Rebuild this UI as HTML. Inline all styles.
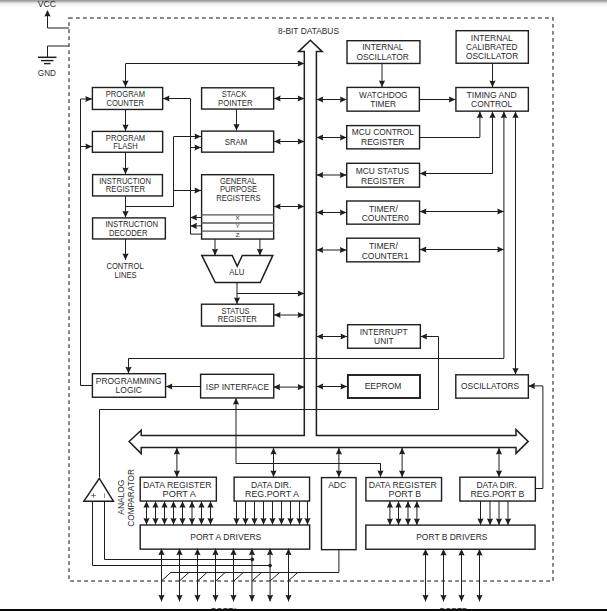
<!DOCTYPE html>
<html><head><meta charset="utf-8"><style>
html,body{margin:0;padding:0;background:#fff;width:607px;height:611px;overflow:hidden}
svg{display:block;font-family:"Liberation Sans",sans-serif}
text{fill:#2b2b2b}
</style></head><body>
<svg width="607" height="611" viewBox="0 0 607 611">
<defs><linearGradient id="tg" x1="0" y1="0" x2="0" y2="1">
<stop offset="0" stop-color="#989898"/><stop offset="0.14" stop-color="#a6a6a6"/><stop offset="0.3" stop-color="#d2d2d2"/><stop offset="0.45" stop-color="#ececec"/><stop offset="0.7" stop-color="#f7f7f7"/><stop offset="1" stop-color="#ffffff"/></linearGradient></defs>
<rect x="0" y="0" width="607" height="611" fill="#fff"/>
<rect x="0" y="0" width="607" height="1" fill="rgb(160,160,160)"/><rect x="0" y="1" width="607" height="1" fill="rgb(180,180,180)"/><rect x="0" y="2" width="607" height="1" fill="rgb(216,216,216)"/><rect x="0" y="3" width="607" height="1" fill="rgb(236,236,236)"/><rect x="0" y="4" width="607" height="1" fill="rgb(245,245,245)"/><rect x="0" y="5" width="607" height="1" fill="rgb(249,249,249)"/><rect x="0" y="6" width="607" height="1" fill="rgb(252,252,252)"/>
<polygon points="47.50,10.00 44.40,16.60 47.50,16.00 50.60,16.60" fill="#1e1e1e"/>
<polyline points="47.5,15 47.5,28 69,28" fill="none" stroke="#1e1e1e" stroke-width="1.0"/>
<polyline points="69,46 47.5,46 47.5,57.5" fill="none" stroke="#1e1e1e" stroke-width="1.0"/>
<line x1="38" y1="57.3" x2="56.5" y2="57.3" stroke="#1e1e1e" stroke-width="1.5"/>
<line x1="41" y1="60.6" x2="53.5" y2="60.6" stroke="#1e1e1e" stroke-width="1.4"/>
<line x1="44" y1="63.6" x2="50.5" y2="63.6" stroke="#1e1e1e" stroke-width="1.4"/>
<rect x="69" y="18" width="484" height="563" fill="none" stroke="#606060" stroke-width="1.5" stroke-dasharray="3.8 3.2"/>
<polygon points="310.4,40.2 322.2,51.6 316.4,51.6 316.4,435.6 516,435.6 516,429.6 528.2,441.4 516,453.4 516,447.6 141.2,447.6 141.2,453.6 129.1,441.5 141.2,430.2 141.2,435.6 304.3,435.6 304.3,51.6 298.5,51.6" fill="none" stroke="#1e1e1e" stroke-width="1.5" stroke-linejoin="miter"/>
<rect x="92.40" y="87.50" width="70.25" height="21.95" fill="none" stroke="#1e1e1e" stroke-width="1.4"/>
<rect x="92.40" y="131.40" width="70.25" height="20.85" fill="none" stroke="#1e1e1e" stroke-width="1.4"/>
<rect x="92.60" y="174.60" width="69.85" height="21.35" fill="none" stroke="#1e1e1e" stroke-width="1.4"/>
<rect x="92.60" y="217.90" width="72.75" height="21.05" fill="none" stroke="#1e1e1e" stroke-width="1.4"/>
<rect x="201.60" y="87.80" width="72.05" height="21.25" fill="none" stroke="#1e1e1e" stroke-width="1.4"/>
<rect x="201.60" y="131.10" width="72.05" height="21.05" fill="none" stroke="#1e1e1e" stroke-width="1.4"/>
<rect x="201.60" y="174.70" width="72.05" height="64.35" fill="none" stroke="#1e1e1e" stroke-width="1.4"/>
<line x1="201.2" y1="214.8" x2="273.9" y2="214.8" stroke="#555" stroke-width="1.3"/>
<line x1="201.2" y1="223.0" x2="273.9" y2="223.0" stroke="#555" stroke-width="1.3"/>
<line x1="201.2" y1="231.1" x2="273.9" y2="231.1" stroke="#555" stroke-width="1.3"/>
<text x="237.6" y="220.3" font-size="6.2" text-anchor="middle" >X</text>
<text x="237.6" y="228.3" font-size="6.2" text-anchor="middle" >Y</text>
<text x="237.6" y="236.8" font-size="6.2" text-anchor="middle" >Z</text>
<polygon points="201.8,255.4 232.2,255.4 237.2,266.3 242.3,255.4 272.8,255.4 260.3,282.6 215.3,282.6" fill="none" stroke="#1e1e1e" stroke-width="1.5"/>
<rect x="201.50" y="304.20" width="72.25" height="21.85" fill="none" stroke="#1e1e1e" stroke-width="1.4"/>
<rect x="200.60" y="374.30" width="73.15" height="23.65" fill="none" stroke="#1e1e1e" stroke-width="1.4"/>
<rect x="92.40" y="373.70" width="73.15" height="23.55" fill="none" stroke="#1e1e1e" stroke-width="1.4"/>
<rect x="347.00" y="40.70" width="72.95" height="22.75" fill="none" stroke="#1e1e1e" stroke-width="1.4"/>
<rect x="347.00" y="87.40" width="72.35" height="23.75" fill="none" stroke="#1e1e1e" stroke-width="1.4"/>
<rect x="346.70" y="125.60" width="72.85" height="23.25" fill="none" stroke="#1e1e1e" stroke-width="1.4"/>
<rect x="346.70" y="163.30" width="72.85" height="23.85" fill="none" stroke="#1e1e1e" stroke-width="1.4"/>
<rect x="346.70" y="201.00" width="72.85" height="23.15" fill="none" stroke="#1e1e1e" stroke-width="1.4"/>
<rect x="346.70" y="238.20" width="72.85" height="23.65" fill="none" stroke="#1e1e1e" stroke-width="1.4"/>
<rect x="347.60" y="324.70" width="72.75" height="23.55" fill="none" stroke="#1e1e1e" stroke-width="1.4"/>
<rect x="347.90" y="375.00" width="72.10" height="23.00" fill="none" stroke="#1e1e1e" stroke-width="1.9"/>
<rect x="456.10" y="30.70" width="72.25" height="32.55" fill="none" stroke="#1e1e1e" stroke-width="1.4"/>
<rect x="455.90" y="87.50" width="72.45" height="23.65" fill="none" stroke="#1e1e1e" stroke-width="1.4"/>
<rect x="455.80" y="374.80" width="72.55" height="23.35" fill="none" stroke="#1e1e1e" stroke-width="1.4"/>
<rect x="140.20" y="477.20" width="76.15" height="23.85" fill="none" stroke="#1e1e1e" stroke-width="1.4"/>
<rect x="234.10" y="477.20" width="75.45" height="23.85" fill="none" stroke="#1e1e1e" stroke-width="1.4"/>
<rect x="321.50" y="477.60" width="34.55" height="72.05" fill="none" stroke="#1e1e1e" stroke-width="1.4"/>
<rect x="365.90" y="477.50" width="75.65" height="23.45" fill="none" stroke="#1e1e1e" stroke-width="1.4"/>
<rect x="459.90" y="477.20" width="75.45" height="23.85" fill="none" stroke="#1e1e1e" stroke-width="1.4"/>
<rect x="140.20" y="525.00" width="169.45" height="24.15" fill="none" stroke="#1e1e1e" stroke-width="1.4"/>
<rect x="365.80" y="525.10" width="169.25" height="24.15" fill="none" stroke="#1e1e1e" stroke-width="1.4"/>
<text x="105.80" y="96.50" font-size="9.2" textLength="39.20" lengthAdjust="spacingAndGlyphs">PROGRAM</text>
<text x="106.50" y="105.60" font-size="9.2" textLength="37.50" lengthAdjust="spacingAndGlyphs">COUNTER</text>
<text x="105.80" y="140.90" font-size="9.2" textLength="39.40" lengthAdjust="spacingAndGlyphs">PROGRAM</text>
<text x="113.30" y="148.70" font-size="9.2" textLength="24.40" lengthAdjust="spacingAndGlyphs">FLASH</text>
<text x="99.20" y="183.70" font-size="9.2" textLength="51.70" lengthAdjust="spacingAndGlyphs">INSTRUCTION</text>
<text x="105.80" y="191.90" font-size="9.2" textLength="39.20" lengthAdjust="spacingAndGlyphs">REGISTER</text>
<text x="105.40" y="227.00" font-size="9.2" textLength="52.60" lengthAdjust="spacingAndGlyphs">INSTRUCTION</text>
<text x="108.90" y="235.90" font-size="9.2" textLength="38.60" lengthAdjust="spacingAndGlyphs">DECODER</text>
<text x="106.40" y="269.00" font-size="9.2" textLength="37.30" lengthAdjust="spacingAndGlyphs">CONTROL</text>
<text x="114.60" y="277.80" font-size="9.2" textLength="21.90" lengthAdjust="spacingAndGlyphs">LINES</text>
<text x="221.80" y="97.20" font-size="9.2" textLength="24.40" lengthAdjust="spacingAndGlyphs">STACK</text>
<text x="218.10" y="106.20" font-size="9.2" textLength="34.40" lengthAdjust="spacingAndGlyphs">POINTER</text>
<text x="224.70" y="145.00" font-size="9.2" textLength="22.50" lengthAdjust="spacingAndGlyphs">SRAM</text>
<text x="219.90" y="184.00" font-size="9.2" textLength="36.30" lengthAdjust="spacingAndGlyphs">GENERAL</text>
<text x="219.90" y="191.90" font-size="9.2" textLength="37.30" lengthAdjust="spacingAndGlyphs">PURPOSE</text>
<text x="216.20" y="200.90" font-size="9.2" textLength="44.40" lengthAdjust="spacingAndGlyphs">REGISTERS</text>
<text x="229.30" y="274.90" font-size="9.2" textLength="15.00" lengthAdjust="spacingAndGlyphs">ALU</text>
<text x="221.40" y="314.10" font-size="9.2" textLength="28.10" lengthAdjust="spacingAndGlyphs">STATUS</text>
<text x="217.70" y="322.10" font-size="9.2" textLength="39.20" lengthAdjust="spacingAndGlyphs">REGISTER</text>
<text x="95.80" y="384.00" font-size="9.2" textLength="65.70" lengthAdjust="spacingAndGlyphs">PROGRAMMING</text>
<text x="115.60" y="392.90" font-size="9.2" textLength="26.40" lengthAdjust="spacingAndGlyphs">LOGIC</text>
<text x="205.80" y="390.30" font-size="9.2" textLength="63.30" lengthAdjust="spacingAndGlyphs">ISP INTERFACE</text>
<text x="362.30" y="49.80" font-size="9.2" textLength="41.20" lengthAdjust="spacingAndGlyphs">INTERNAL</text>
<text x="356.40" y="59.90" font-size="9.2" textLength="52.40" lengthAdjust="spacingAndGlyphs">OSCILLATOR</text>
<text x="359.10" y="97.60" font-size="9.2" textLength="48.50" lengthAdjust="spacingAndGlyphs">WATCHDOG</text>
<text x="370.20" y="106.50" font-size="9.2" textLength="25.90" lengthAdjust="spacingAndGlyphs">TIMER</text>
<text x="351.80" y="135.10" font-size="9.2" textLength="62.20" lengthAdjust="spacingAndGlyphs">MCU CONTROL</text>
<text x="361.00" y="144.70" font-size="9.2" textLength="43.50" lengthAdjust="spacingAndGlyphs">REGISTER</text>
<text x="355.80" y="173.90" font-size="9.2" textLength="53.30" lengthAdjust="spacingAndGlyphs">MCU STATUS</text>
<text x="361.00" y="183.80" font-size="9.2" textLength="43.50" lengthAdjust="spacingAndGlyphs">REGISTER</text>
<text x="368.90" y="212.00" font-size="9.2" textLength="29.00" lengthAdjust="spacingAndGlyphs">TIMER/</text>
<text x="361.70" y="220.90" font-size="9.2" textLength="47.00" lengthAdjust="spacingAndGlyphs">COUNTER0</text>
<text x="368.90" y="248.90" font-size="9.2" textLength="29.00" lengthAdjust="spacingAndGlyphs">TIMER/</text>
<text x="361.70" y="258.50" font-size="9.2" textLength="46.80" lengthAdjust="spacingAndGlyphs">COUNTER1</text>
<text x="359.70" y="334.90" font-size="9.2" textLength="48.00" lengthAdjust="spacingAndGlyphs">INTERRUPT</text>
<text x="374.10" y="344.10" font-size="9.2" textLength="19.50" lengthAdjust="spacingAndGlyphs">UNIT</text>
<text x="364.70" y="389.00" font-size="9.2" textLength="36.60" lengthAdjust="spacingAndGlyphs">EEPROM</text>
<text x="470.80" y="40.90" font-size="9.2" textLength="41.80" lengthAdjust="spacingAndGlyphs">INTERNAL</text>
<text x="465.90" y="49.90" font-size="9.2" textLength="51.60" lengthAdjust="spacingAndGlyphs">CALIBRATED</text>
<text x="465.90" y="59.00" font-size="9.2" textLength="52.30" lengthAdjust="spacingAndGlyphs">OSCILLATOR</text>
<text x="466.60" y="98.10" font-size="9.2" textLength="50.10" lengthAdjust="spacingAndGlyphs">TIMING AND</text>
<text x="471.10" y="107.20" font-size="9.2" textLength="41.20" lengthAdjust="spacingAndGlyphs">CONTROL</text>
<text x="461.00" y="389.00" font-size="9.2" textLength="58.10" lengthAdjust="spacingAndGlyphs">OSCILLATORS</text>
<text x="143.00" y="488.00" font-size="9.2" textLength="68.50" lengthAdjust="spacingAndGlyphs">DATA REGISTER</text>
<text x="162.60" y="497.00" font-size="9.2" textLength="33.40" lengthAdjust="spacingAndGlyphs">PORT A</text>
<text x="250.90" y="488.00" font-size="9.2" textLength="40.50" lengthAdjust="spacingAndGlyphs">DATA DIR.</text>
<text x="245.00" y="497.00" font-size="9.2" textLength="53.80" lengthAdjust="spacingAndGlyphs">REG.PORT A</text>
<text x="328.20" y="488.10" font-size="9.2" textLength="18.00" lengthAdjust="spacingAndGlyphs">ADC</text>
<text x="368.70" y="488.10" font-size="9.2" textLength="68.10" lengthAdjust="spacingAndGlyphs">DATA REGISTER</text>
<text x="388.60" y="497.30" font-size="9.2" textLength="32.50" lengthAdjust="spacingAndGlyphs">PORT B</text>
<text x="476.40" y="488.00" font-size="9.2" textLength="40.50" lengthAdjust="spacingAndGlyphs">DATA DIR.</text>
<text x="470.50" y="497.00" font-size="9.2" textLength="53.80" lengthAdjust="spacingAndGlyphs">REG.PORT B</text>
<text x="190.20" y="540.10" font-size="9.2" textLength="71.10" lengthAdjust="spacingAndGlyphs">PORT A DRIVERS</text>
<text x="416.20" y="540.10" font-size="9.2" textLength="71.20" lengthAdjust="spacingAndGlyphs">PORT B DRIVERS</text>
<text x="37.80" y="6.80" font-size="9.2" textLength="18.10" lengthAdjust="spacingAndGlyphs">VCC</text>
<text x="37.80" y="75.70" font-size="9.2" textLength="18.10" lengthAdjust="spacingAndGlyphs">GND</text>
<text x="278.00" y="33.90" font-size="9.2" textLength="61.00" lengthAdjust="spacingAndGlyphs">8-BIT DATABUS</text>
<text x="0" y="0" font-size="9.2" textLength="35.00" lengthAdjust="spacingAndGlyphs" transform="translate(124.00,514.70) rotate(-90)">ANALOG</text>
<text x="0" y="0" font-size="9.2" textLength="57.60" lengthAdjust="spacingAndGlyphs" transform="translate(133.70,526.70) rotate(-90)">COMPARATOR</text>
<polyline points="125.5,63.5 304.5,63.5" fill="none" stroke="#1e1e1e" stroke-width="1.0"/>
<polygon points="304.30,63.50 297.70,60.40 298.30,63.50 297.70,66.60" fill="#1e1e1e"/>
<line x1="125.5" y1="63.7" x2="125.5" y2="87.1" stroke="#1e1e1e" stroke-width="1.0"/>
<polygon points="125.50,87.10 122.40,80.50 125.50,81.10 128.60,80.50" fill="#1e1e1e"/>
<line x1="80.5" y1="99" x2="80.5" y2="385.5" stroke="#1e1e1e" stroke-width="1.0"/>
<line x1="80.5" y1="385.5" x2="92.1" y2="385.5" stroke="#1e1e1e" stroke-width="1.0"/>
<line x1="80.5" y1="99" x2="92" y2="99" stroke="#1e1e1e" stroke-width="1.0"/>
<polygon points="92.00,99.00 85.40,95.90 86.00,99.00 85.40,102.10" fill="#1e1e1e"/>
<line x1="80.5" y1="146.5" x2="92" y2="146.5" stroke="#1e1e1e" stroke-width="1.0"/>
<polygon points="92.00,146.50 85.40,143.40 86.00,146.50 85.40,149.60" fill="#1e1e1e"/>
<line x1="125.5" y1="109.7" x2="125.5" y2="131" stroke="#1e1e1e" stroke-width="1.0"/>
<polygon points="125.50,131.00 122.40,124.40 125.50,125.00 128.60,124.40" fill="#1e1e1e"/>
<line x1="125.5" y1="152.5" x2="125.5" y2="174.2" stroke="#1e1e1e" stroke-width="1.0"/>
<polygon points="125.50,174.20 122.40,167.60 125.50,168.20 128.60,167.60" fill="#1e1e1e"/>
<line x1="125.5" y1="196.2" x2="125.5" y2="217.5" stroke="#1e1e1e" stroke-width="1.0"/>
<polygon points="125.50,217.50 122.40,210.90 125.50,211.50 128.60,210.90" fill="#1e1e1e"/>
<line x1="125.5" y1="239" x2="125.5" y2="260" stroke="#1e1e1e" stroke-width="1.0"/>
<polygon points="125.50,260.00 122.40,253.40 125.50,254.00 128.60,253.40" fill="#1e1e1e"/>
<polyline points="125.5,206.5 173.5,206.5 173.5,136.5" fill="none" stroke="#1e1e1e" stroke-width="1.0"/>
<line x1="173.8" y1="136.5" x2="201.1" y2="136.5" stroke="#1e1e1e" stroke-width="1.0"/>
<polygon points="201.10,136.50 194.50,133.40 195.10,136.50 194.50,139.60" fill="#1e1e1e"/>
<line x1="173.8" y1="190.5" x2="201.1" y2="190.5" stroke="#1e1e1e" stroke-width="1.0"/>
<polygon points="201.10,190.50 194.50,187.40 195.10,190.50 194.50,193.60" fill="#1e1e1e"/>
<line x1="190.5" y1="98.5" x2="190.5" y2="234.1" stroke="#1e1e1e" stroke-width="1.0"/>
<line x1="190.3" y1="98.5" x2="162.9" y2="98.5" stroke="#1e1e1e" stroke-width="1.0"/>
<polygon points="162.90,98.50 169.50,95.40 168.90,98.50 169.50,101.60" fill="#1e1e1e"/>
<line x1="190.3" y1="147.5" x2="201.1" y2="147.5" stroke="#1e1e1e" stroke-width="1.0"/>
<polygon points="201.10,147.50 194.50,144.40 195.10,147.50 194.50,150.60" fill="#1e1e1e"/>
<line x1="201.1" y1="217.5" x2="190.3" y2="217.5" stroke="#1e1e1e" stroke-width="1.0"/>
<polygon points="190.30,217.50 196.90,214.40 196.30,217.50 196.90,220.60" fill="#1e1e1e"/>
<line x1="201.1" y1="225.9" x2="190.3" y2="225.9" stroke="#1e1e1e" stroke-width="1.0"/>
<polygon points="190.30,225.90 196.90,222.80 196.30,225.90 196.90,229.00" fill="#1e1e1e"/>
<line x1="190.3" y1="234.1" x2="201.1" y2="234.1" stroke="#1e1e1e" stroke-width="1.0"/>
<line x1="236.5" y1="109.2" x2="236.5" y2="130.6" stroke="#1e1e1e" stroke-width="1.0"/>
<polygon points="236.50,130.60 233.40,124.00 236.50,124.60 239.60,124.00" fill="#1e1e1e"/>
<line x1="215" y1="239.2" x2="215" y2="255.4" stroke="#1e1e1e" stroke-width="1.0"/>
<polygon points="215.00,255.40 211.90,248.80 215.00,249.40 218.10,248.80" fill="#1e1e1e"/>
<line x1="259.9" y1="239.2" x2="259.9" y2="255.4" stroke="#1e1e1e" stroke-width="1.0"/>
<polygon points="259.90,255.40 256.80,248.80 259.90,249.40 263.00,248.80" fill="#1e1e1e"/>
<line x1="237" y1="282" x2="237" y2="304.1" stroke="#1e1e1e" stroke-width="1.0"/>
<polygon points="237.00,304.10 233.90,297.50 237.00,298.10 240.10,297.50" fill="#1e1e1e"/>
<line x1="237" y1="293.5" x2="304.3" y2="293.5" stroke="#1e1e1e" stroke-width="1.0"/>
<polygon points="304.30,293.50 297.70,290.40 298.30,293.50 297.70,296.60" fill="#1e1e1e"/>
<line x1="274" y1="98.5" x2="304.3" y2="98.5" stroke="#1e1e1e" stroke-width="1.0"/>
<polygon points="304.30,98.50 297.70,95.40 298.30,98.50 297.70,101.60" fill="#1e1e1e"/>
<polygon points="274.00,98.50 280.60,95.40 280.00,98.50 280.60,101.60" fill="#1e1e1e"/>
<line x1="274" y1="141.5" x2="304.3" y2="141.5" stroke="#1e1e1e" stroke-width="1.0"/>
<polygon points="304.30,141.50 297.70,138.40 298.30,141.50 297.70,144.60" fill="#1e1e1e"/>
<polygon points="274.00,141.50 280.60,138.40 280.00,141.50 280.60,144.60" fill="#1e1e1e"/>
<line x1="274" y1="206.5" x2="304.3" y2="206.5" stroke="#1e1e1e" stroke-width="1.0"/>
<polygon points="304.30,206.50 297.70,203.40 298.30,206.50 297.70,209.60" fill="#1e1e1e"/>
<polygon points="274.00,206.50 280.60,203.40 280.00,206.50 280.60,209.60" fill="#1e1e1e"/>
<line x1="274" y1="315" x2="304.3" y2="315" stroke="#1e1e1e" stroke-width="1.0"/>
<polygon points="304.30,315.00 297.70,311.90 298.30,315.00 297.70,318.10" fill="#1e1e1e"/>
<polygon points="274.00,315.00 280.60,311.90 280.00,315.00 280.60,318.10" fill="#1e1e1e"/>
<line x1="273.5" y1="387.1" x2="304.3" y2="387.1" stroke="#1e1e1e" stroke-width="1.0"/>
<polygon points="304.30,387.10 297.70,384.00 298.30,387.10 297.70,390.20" fill="#1e1e1e"/>
<polygon points="273.50,387.10 280.10,384.00 279.50,387.10 280.10,390.20" fill="#1e1e1e"/>
<line x1="200.4" y1="386.5" x2="165.8" y2="386.5" stroke="#1e1e1e" stroke-width="1.0"/>
<polygon points="165.80,386.50 172.40,383.40 171.80,386.50 172.40,389.60" fill="#1e1e1e"/>
<line x1="316.6" y1="99.5" x2="346.6" y2="99.5" stroke="#1e1e1e" stroke-width="1.0"/>
<polygon points="346.60,99.50 340.00,96.40 340.60,99.50 340.00,102.60" fill="#1e1e1e"/>
<polygon points="316.60,99.50 323.20,96.40 322.60,99.50 323.20,102.60" fill="#1e1e1e"/>
<line x1="316.6" y1="137.5" x2="346.6" y2="137.5" stroke="#1e1e1e" stroke-width="1.0"/>
<polygon points="346.60,137.50 340.00,134.40 340.60,137.50 340.00,140.60" fill="#1e1e1e"/>
<polygon points="316.60,137.50 323.20,134.40 322.60,137.50 323.20,140.60" fill="#1e1e1e"/>
<line x1="316.6" y1="175" x2="346.5" y2="175" stroke="#1e1e1e" stroke-width="1.0"/>
<polygon points="346.50,175.00 339.90,171.90 340.50,175.00 339.90,178.10" fill="#1e1e1e"/>
<polygon points="316.60,175.00 323.20,171.90 322.60,175.00 323.20,178.10" fill="#1e1e1e"/>
<line x1="316.6" y1="212.5" x2="346.5" y2="212.5" stroke="#1e1e1e" stroke-width="1.0"/>
<polygon points="346.50,212.50 339.90,209.40 340.50,212.50 339.90,215.60" fill="#1e1e1e"/>
<polygon points="316.60,212.50 323.20,209.40 322.60,212.50 323.20,215.60" fill="#1e1e1e"/>
<line x1="316.6" y1="250" x2="346.5" y2="250" stroke="#1e1e1e" stroke-width="1.0"/>
<polygon points="346.50,250.00 339.90,246.90 340.50,250.00 339.90,253.10" fill="#1e1e1e"/>
<polygon points="316.60,250.00 323.20,246.90 322.60,250.00 323.20,253.10" fill="#1e1e1e"/>
<line x1="316.6" y1="336.5" x2="347.1" y2="336.5" stroke="#1e1e1e" stroke-width="1.0"/>
<polygon points="347.10,336.50 340.50,333.40 341.10,336.50 340.50,339.60" fill="#1e1e1e"/>
<polygon points="316.60,336.50 323.20,333.40 322.60,336.50 323.20,339.60" fill="#1e1e1e"/>
<line x1="316.6" y1="386.5" x2="347.1" y2="386.5" stroke="#1e1e1e" stroke-width="1.0"/>
<polygon points="347.10,386.50 340.50,383.40 341.10,386.50 340.50,389.60" fill="#1e1e1e"/>
<polygon points="316.60,386.50 323.20,383.40 322.60,386.50 323.20,389.60" fill="#1e1e1e"/>
<line x1="382" y1="63.7" x2="382" y2="87" stroke="#1e1e1e" stroke-width="1.0"/>
<polygon points="382.00,87.00 378.90,80.40 382.00,81.00 385.10,80.40" fill="#1e1e1e"/>
<line x1="419.6" y1="99.5" x2="455.5" y2="99.5" stroke="#1e1e1e" stroke-width="1.0"/>
<polygon points="455.50,99.50 448.90,96.40 449.50,99.50 448.90,102.60" fill="#1e1e1e"/>
<line x1="492.5" y1="63.5" x2="492.5" y2="87.2" stroke="#1e1e1e" stroke-width="1.0"/>
<polygon points="492.50,87.20 489.40,80.60 492.50,81.20 495.60,80.60" fill="#1e1e1e"/>
<polyline points="419.5,137.5 479.9,137.5" fill="none" stroke="#1e1e1e" stroke-width="1.0"/>
<line x1="479.9" y1="137.2" x2="479.9" y2="111.4" stroke="#1e1e1e" stroke-width="1.0"/>
<polygon points="479.90,111.40 476.80,118.00 479.90,117.40 483.00,118.00" fill="#1e1e1e"/>
<polyline points="492.5,173.5 419.5,173.5" fill="none" stroke="#1e1e1e" stroke-width="1.0"/>
<polygon points="419.80,173.50 426.40,170.40 425.80,173.50 426.40,176.60" fill="#1e1e1e"/>
<line x1="492.5" y1="173.8" x2="492.5" y2="111.4" stroke="#1e1e1e" stroke-width="1.0"/>
<polygon points="492.50,111.40 489.40,118.00 492.50,117.40 495.60,118.00" fill="#1e1e1e"/>
<line x1="503.9" y1="358.3" x2="503.9" y2="111.4" stroke="#1e1e1e" stroke-width="1.0"/>
<polygon points="503.90,111.40 500.80,118.00 503.90,117.40 507.00,118.00" fill="#1e1e1e"/>
<line x1="419.8" y1="211.5" x2="503.9" y2="211.5" stroke="#1e1e1e" stroke-width="1.0"/>
<polygon points="503.90,211.50 497.30,208.40 497.90,211.50 497.30,214.60" fill="#1e1e1e"/>
<polygon points="419.80,211.50 426.40,208.40 425.80,211.50 426.40,214.60" fill="#1e1e1e"/>
<line x1="419.8" y1="249.5" x2="503.9" y2="249.5" stroke="#1e1e1e" stroke-width="1.0"/>
<polygon points="503.90,249.50 497.30,246.40 497.90,249.50 497.30,252.60" fill="#1e1e1e"/>
<polygon points="419.80,249.50 426.40,246.40 425.80,249.50 426.40,252.60" fill="#1e1e1e"/>
<polyline points="503.9,358.5 128.5,358.5" fill="none" stroke="#1e1e1e" stroke-width="1.0"/>
<line x1="128.5" y1="358.3" x2="128.5" y2="373.4" stroke="#1e1e1e" stroke-width="1.0"/>
<polygon points="128.50,373.40 125.40,366.80 128.50,367.40 131.60,366.80" fill="#1e1e1e"/>
<line x1="515.5" y1="111.4" x2="515.5" y2="374.5" stroke="#1e1e1e" stroke-width="1.0"/>
<polygon points="515.50,374.50 512.40,367.90 515.50,368.50 518.60,367.90" fill="#1e1e1e"/>
<polygon points="515.50,111.40 512.40,118.00 515.50,117.40 518.60,118.00" fill="#1e1e1e"/>
<polyline points="535.5,488.5 542.9,488.5 542.9,385.9" fill="none" stroke="#1e1e1e" stroke-width="1.0"/>
<line x1="542.9" y1="385.9" x2="528.4" y2="385.9" stroke="#1e1e1e" stroke-width="1.0"/>
<polygon points="528.40,385.90 535.00,382.80 534.40,385.90 535.00,389.00" fill="#1e1e1e"/>
<polyline points="438.5,336.5 438.5,409.5 99.5,409.5 99.5,477" fill="none" stroke="#1e1e1e" stroke-width="1.0"/>
<polygon points="420.50,336.50 427.10,333.40 426.50,336.50 427.10,339.60" fill="#1e1e1e"/>
<line x1="420.5" y1="336.5" x2="438.5" y2="336.5" stroke="#1e1e1e" stroke-width="1.0"/>
<polyline points="236,398 236,463.5 380.5,463.5" fill="none" stroke="#1e1e1e" stroke-width="1.0"/>
<polygon points="236.00,398.00 232.90,404.60 236.00,404.00 239.10,404.60" fill="#1e1e1e"/>
<line x1="380.5" y1="463.2" x2="380.5" y2="477" stroke="#1e1e1e" stroke-width="1.0"/>
<polygon points="380.50,477.00 377.40,470.40 380.50,471.00 383.60,470.40" fill="#1e1e1e"/>
<line x1="176.9" y1="447.8" x2="176.9" y2="477" stroke="#1e1e1e" stroke-width="1.0"/>
<polygon points="176.90,477.00 173.80,470.40 176.90,471.00 180.00,470.40" fill="#1e1e1e"/>
<polygon points="176.90,447.80 173.80,454.40 176.90,453.80 180.00,454.40" fill="#1e1e1e"/>
<line x1="273.5" y1="447.8" x2="273.5" y2="477" stroke="#1e1e1e" stroke-width="1.0"/>
<polygon points="273.50,477.00 270.40,470.40 273.50,471.00 276.60,470.40" fill="#1e1e1e"/>
<polygon points="273.50,447.80 270.40,454.40 273.50,453.80 276.60,454.40" fill="#1e1e1e"/>
<line x1="338.9" y1="447.8" x2="338.9" y2="477" stroke="#1e1e1e" stroke-width="1.0"/>
<polygon points="338.90,477.00 335.80,470.40 338.90,471.00 342.00,470.40" fill="#1e1e1e"/>
<polygon points="338.90,447.80 335.80,454.40 338.90,453.80 342.00,454.40" fill="#1e1e1e"/>
<line x1="402.1" y1="447.8" x2="402.1" y2="477" stroke="#1e1e1e" stroke-width="1.0"/>
<polygon points="402.10,477.00 399.00,470.40 402.10,471.00 405.20,470.40" fill="#1e1e1e"/>
<polygon points="402.10,447.80 399.00,454.40 402.10,453.80 405.20,454.40" fill="#1e1e1e"/>
<line x1="499" y1="447.8" x2="499" y2="477" stroke="#1e1e1e" stroke-width="1.0"/>
<polygon points="499.00,477.00 495.90,470.40 499.00,471.00 502.10,470.40" fill="#1e1e1e"/>
<polygon points="499.00,447.80 495.90,454.40 499.00,453.80 502.10,454.40" fill="#1e1e1e"/>
<line x1="146.5" y1="501.2" x2="146.5" y2="524.7" stroke="#1e1e1e" stroke-width="1.0"/>
<polygon points="146.50,524.70 143.40,518.10 146.50,518.70 149.60,518.10" fill="#1e1e1e"/>
<polygon points="146.50,501.20 143.40,507.80 146.50,507.20 149.60,507.80" fill="#1e1e1e"/>
<line x1="155.5" y1="501.2" x2="155.5" y2="524.7" stroke="#1e1e1e" stroke-width="1.0"/>
<polygon points="155.50,524.70 152.40,518.10 155.50,518.70 158.60,518.10" fill="#1e1e1e"/>
<polygon points="155.50,501.20 152.40,507.80 155.50,507.20 158.60,507.80" fill="#1e1e1e"/>
<line x1="164.5" y1="501.2" x2="164.5" y2="524.7" stroke="#1e1e1e" stroke-width="1.0"/>
<polygon points="164.50,524.70 161.40,518.10 164.50,518.70 167.60,518.10" fill="#1e1e1e"/>
<polygon points="164.50,501.20 161.40,507.80 164.50,507.20 167.60,507.80" fill="#1e1e1e"/>
<line x1="173.5" y1="501.2" x2="173.5" y2="524.7" stroke="#1e1e1e" stroke-width="1.0"/>
<polygon points="173.50,524.70 170.40,518.10 173.50,518.70 176.60,518.10" fill="#1e1e1e"/>
<polygon points="173.50,501.20 170.40,507.80 173.50,507.20 176.60,507.80" fill="#1e1e1e"/>
<line x1="182.5" y1="501.2" x2="182.5" y2="524.7" stroke="#1e1e1e" stroke-width="1.0"/>
<polygon points="182.50,524.70 179.40,518.10 182.50,518.70 185.60,518.10" fill="#1e1e1e"/>
<polygon points="182.50,501.20 179.40,507.80 182.50,507.20 185.60,507.80" fill="#1e1e1e"/>
<line x1="192" y1="501.2" x2="192" y2="524.7" stroke="#1e1e1e" stroke-width="1.0"/>
<polygon points="192.00,524.70 188.90,518.10 192.00,518.70 195.10,518.10" fill="#1e1e1e"/>
<polygon points="192.00,501.20 188.90,507.80 192.00,507.20 195.10,507.80" fill="#1e1e1e"/>
<line x1="201.5" y1="501.2" x2="201.5" y2="524.7" stroke="#1e1e1e" stroke-width="1.0"/>
<polygon points="201.50,524.70 198.40,518.10 201.50,518.70 204.60,518.10" fill="#1e1e1e"/>
<polygon points="201.50,501.20 198.40,507.80 201.50,507.20 204.60,507.80" fill="#1e1e1e"/>
<line x1="210.5" y1="501.2" x2="210.5" y2="524.7" stroke="#1e1e1e" stroke-width="1.0"/>
<polygon points="210.50,524.70 207.40,518.10 210.50,518.70 213.60,518.10" fill="#1e1e1e"/>
<polygon points="210.50,501.20 207.40,507.80 210.50,507.20 213.60,507.80" fill="#1e1e1e"/>
<line x1="236.5" y1="501.2" x2="236.5" y2="524.7" stroke="#1e1e1e" stroke-width="1.0"/>
<polygon points="236.50,524.70 233.40,518.10 236.50,518.70 239.60,518.10" fill="#1e1e1e"/>
<line x1="245.5" y1="501.2" x2="245.5" y2="524.7" stroke="#1e1e1e" stroke-width="1.0"/>
<polygon points="245.50,524.70 242.40,518.10 245.50,518.70 248.60,518.10" fill="#1e1e1e"/>
<line x1="254.5" y1="501.2" x2="254.5" y2="524.7" stroke="#1e1e1e" stroke-width="1.0"/>
<polygon points="254.50,524.70 251.40,518.10 254.50,518.70 257.60,518.10" fill="#1e1e1e"/>
<line x1="263.5" y1="501.2" x2="263.5" y2="524.7" stroke="#1e1e1e" stroke-width="1.0"/>
<polygon points="263.50,524.70 260.40,518.10 263.50,518.70 266.60,518.10" fill="#1e1e1e"/>
<line x1="272.5" y1="501.2" x2="272.5" y2="524.7" stroke="#1e1e1e" stroke-width="1.0"/>
<polygon points="272.50,524.70 269.40,518.10 272.50,518.70 275.60,518.10" fill="#1e1e1e"/>
<line x1="281.5" y1="501.2" x2="281.5" y2="524.7" stroke="#1e1e1e" stroke-width="1.0"/>
<polygon points="281.50,524.70 278.40,518.10 281.50,518.70 284.60,518.10" fill="#1e1e1e"/>
<line x1="290.5" y1="501.2" x2="290.5" y2="524.7" stroke="#1e1e1e" stroke-width="1.0"/>
<polygon points="290.50,524.70 287.40,518.10 290.50,518.70 293.60,518.10" fill="#1e1e1e"/>
<line x1="299.5" y1="501.2" x2="299.5" y2="524.7" stroke="#1e1e1e" stroke-width="1.0"/>
<polygon points="299.50,524.70 296.40,518.10 299.50,518.70 302.60,518.10" fill="#1e1e1e"/>
<line x1="307.5" y1="501.2" x2="307.5" y2="524.7" stroke="#1e1e1e" stroke-width="1.0"/>
<polygon points="307.50,524.70 304.40,518.10 307.50,518.70 310.60,518.10" fill="#1e1e1e"/>
<line x1="389.9" y1="501.2" x2="389.9" y2="525" stroke="#1e1e1e" stroke-width="1.0"/>
<polygon points="389.90,525.00 386.80,518.40 389.90,519.00 393.00,518.40" fill="#1e1e1e"/>
<polygon points="389.90,501.20 386.80,507.80 389.90,507.20 393.00,507.80" fill="#1e1e1e"/>
<line x1="398.5" y1="501.2" x2="398.5" y2="525" stroke="#1e1e1e" stroke-width="1.0"/>
<polygon points="398.50,525.00 395.40,518.40 398.50,519.00 401.60,518.40" fill="#1e1e1e"/>
<polygon points="398.50,501.20 395.40,507.80 398.50,507.20 401.60,507.80" fill="#1e1e1e"/>
<line x1="408" y1="501.2" x2="408" y2="525" stroke="#1e1e1e" stroke-width="1.0"/>
<polygon points="408.00,525.00 404.90,518.40 408.00,519.00 411.10,518.40" fill="#1e1e1e"/>
<polygon points="408.00,501.20 404.90,507.80 408.00,507.20 411.10,507.80" fill="#1e1e1e"/>
<line x1="416.9" y1="501.2" x2="416.9" y2="525" stroke="#1e1e1e" stroke-width="1.0"/>
<polygon points="416.90,525.00 413.80,518.40 416.90,519.00 420.00,518.40" fill="#1e1e1e"/>
<polygon points="416.90,501.20 413.80,507.80 416.90,507.20 420.00,507.80" fill="#1e1e1e"/>
<line x1="480.5" y1="500.9" x2="480.5" y2="525" stroke="#1e1e1e" stroke-width="1.0"/>
<polygon points="480.50,525.00 477.40,518.40 480.50,519.00 483.60,518.40" fill="#1e1e1e"/>
<line x1="490" y1="500.9" x2="490" y2="525" stroke="#1e1e1e" stroke-width="1.0"/>
<polygon points="490.00,525.00 486.90,518.40 490.00,519.00 493.10,518.40" fill="#1e1e1e"/>
<line x1="499" y1="500.9" x2="499" y2="525" stroke="#1e1e1e" stroke-width="1.0"/>
<polygon points="499.00,525.00 495.90,518.40 499.00,519.00 502.10,518.40" fill="#1e1e1e"/>
<line x1="508" y1="500.9" x2="508" y2="525" stroke="#1e1e1e" stroke-width="1.0"/>
<polygon points="508.00,525.00 504.90,518.40 508.00,519.00 511.10,518.40" fill="#1e1e1e"/>
<line x1="161.5" y1="548.6" x2="161.5" y2="601.4" stroke="#1e1e1e" stroke-width="1.0"/>
<polygon points="161.50,601.40 158.40,594.80 161.50,595.40 164.60,594.80" fill="#1e1e1e"/>
<polygon points="161.50,548.60 158.40,555.20 161.50,554.60 164.60,555.20" fill="#1e1e1e"/>
<line x1="161.3" y1="581" x2="171.10000000000002" y2="572.2" stroke="#1e1e1e" stroke-width="1.0"/>
<line x1="179.5" y1="548.6" x2="179.5" y2="601.4" stroke="#1e1e1e" stroke-width="1.0"/>
<polygon points="179.50,601.40 176.40,594.80 179.50,595.40 182.60,594.80" fill="#1e1e1e"/>
<polygon points="179.50,548.60 176.40,555.20 179.50,554.60 182.60,555.20" fill="#1e1e1e"/>
<line x1="179.43" y1="581" x2="189.23000000000002" y2="572.2" stroke="#1e1e1e" stroke-width="1.0"/>
<line x1="197.5" y1="548.6" x2="197.5" y2="601.4" stroke="#1e1e1e" stroke-width="1.0"/>
<polygon points="197.50,601.40 194.40,594.80 197.50,595.40 200.60,594.80" fill="#1e1e1e"/>
<polygon points="197.50,548.60 194.40,555.20 197.50,554.60 200.60,555.20" fill="#1e1e1e"/>
<line x1="197.56" y1="581" x2="207.36" y2="572.2" stroke="#1e1e1e" stroke-width="1.0"/>
<line x1="215.5" y1="548.6" x2="215.5" y2="601.4" stroke="#1e1e1e" stroke-width="1.0"/>
<polygon points="215.50,601.40 212.40,594.80 215.50,595.40 218.60,594.80" fill="#1e1e1e"/>
<polygon points="215.50,548.60 212.40,555.20 215.50,554.60 218.60,555.20" fill="#1e1e1e"/>
<line x1="215.69" y1="581" x2="225.49" y2="572.2" stroke="#1e1e1e" stroke-width="1.0"/>
<line x1="233.5" y1="548.6" x2="233.5" y2="601.4" stroke="#1e1e1e" stroke-width="1.0"/>
<polygon points="233.50,601.40 230.40,594.80 233.50,595.40 236.60,594.80" fill="#1e1e1e"/>
<polygon points="233.50,548.60 230.40,555.20 233.50,554.60 236.60,555.20" fill="#1e1e1e"/>
<line x1="233.82" y1="581" x2="243.62" y2="572.2" stroke="#1e1e1e" stroke-width="1.0"/>
<line x1="251.95" y1="548.6" x2="251.95" y2="601.4" stroke="#1e1e1e" stroke-width="1.0"/>
<polygon points="251.95,601.40 248.85,594.80 251.95,595.40 255.05,594.80" fill="#1e1e1e"/>
<polygon points="251.95,548.60 248.85,555.20 251.95,554.60 255.05,555.20" fill="#1e1e1e"/>
<line x1="251.95" y1="581" x2="261.75" y2="572.2" stroke="#1e1e1e" stroke-width="1.0"/>
<line x1="270.08000000000004" y1="548.6" x2="270.08000000000004" y2="601.4" stroke="#1e1e1e" stroke-width="1.0"/>
<polygon points="270.08,601.40 266.98,594.80 270.08,595.40 273.18,594.80" fill="#1e1e1e"/>
<polygon points="270.08,548.60 266.98,555.20 270.08,554.60 273.18,555.20" fill="#1e1e1e"/>
<line x1="270.08000000000004" y1="581" x2="279.88000000000005" y2="572.2" stroke="#1e1e1e" stroke-width="1.0"/>
<line x1="288.5" y1="548.6" x2="288.5" y2="601.4" stroke="#1e1e1e" stroke-width="1.0"/>
<polygon points="288.50,601.40 285.40,594.80 288.50,595.40 291.60,594.80" fill="#1e1e1e"/>
<polygon points="288.50,548.60 285.40,555.20 288.50,554.60 291.60,555.20" fill="#1e1e1e"/>
<line x1="288.21000000000004" y1="581" x2="298.01000000000005" y2="572.2" stroke="#1e1e1e" stroke-width="1.0"/>
<line x1="425.5" y1="549" x2="425.5" y2="601.4" stroke="#1e1e1e" stroke-width="1.0"/>
<polygon points="425.50,601.40 422.40,594.80 425.50,595.40 428.60,594.80" fill="#1e1e1e"/>
<polygon points="425.50,549.00 422.40,555.60 425.50,555.00 428.60,555.60" fill="#1e1e1e"/>
<line x1="443.5" y1="549" x2="443.5" y2="601.4" stroke="#1e1e1e" stroke-width="1.0"/>
<polygon points="443.50,601.40 440.40,594.80 443.50,595.40 446.60,594.80" fill="#1e1e1e"/>
<polygon points="443.50,549.00 440.40,555.60 443.50,555.00 446.60,555.60" fill="#1e1e1e"/>
<line x1="461.5" y1="549" x2="461.5" y2="601.4" stroke="#1e1e1e" stroke-width="1.0"/>
<polygon points="461.50,601.40 458.40,594.80 461.50,595.40 464.60,594.80" fill="#1e1e1e"/>
<polygon points="461.50,549.00 458.40,555.60 461.50,555.00 464.60,555.60" fill="#1e1e1e"/>
<line x1="479.5" y1="549" x2="479.5" y2="601.4" stroke="#1e1e1e" stroke-width="1.0"/>
<polygon points="479.50,601.40 476.40,594.80 479.50,595.40 482.60,594.80" fill="#1e1e1e"/>
<polygon points="479.50,549.00 476.40,555.60 479.50,555.00 482.60,555.60" fill="#1e1e1e"/>
<line x1="170.9" y1="572.5" x2="338.9" y2="572.5" stroke="#1e1e1e" stroke-width="1.0"/>
<line x1="338.9" y1="549.3" x2="338.9" y2="572.2" stroke="#1e1e1e" stroke-width="1.0"/>
<polygon points="99.3,478.3 113.4,501.2 83.9,501.2" fill="none" stroke="#1e1e1e" stroke-width="1.5" stroke-linejoin="miter"/>
<line x1="91.3" y1="495.5" x2="95.7" y2="495.5" stroke="#555" stroke-width="0.8"/>
<line x1="93.5" y1="493.2" x2="93.5" y2="497.6" stroke="#555" stroke-width="0.8"/>
<line x1="104.5" y1="493.2" x2="104.5" y2="498.1" stroke="#777" stroke-width="0.8"/>
<polyline points="92.5,501.5 92.5,565.5 270.1,565.5" fill="none" stroke="#1e1e1e" stroke-width="1.0"/>
<polyline points="104.5,501.5 104.5,559.5 252.5,559.5" fill="none" stroke="#1e1e1e" stroke-width="1.0"/>
<circle cx="252.3" cy="559.4" r="1.8" fill="#1e1e1e"/>
<circle cx="270.1" cy="565.6" r="1.8" fill="#1e1e1e"/>
<text x="211" y="614.1" font-size="8.9" textLength="27" lengthAdjust="spacingAndGlyphs">PORTA</text>
<text x="439.5" y="614.1" font-size="8.9" textLength="28" lengthAdjust="spacingAndGlyphs">PORTB</text>
<rect x="0" y="609" width="607" height="2" fill="#0a0a0a"/>
</svg></body></html>
